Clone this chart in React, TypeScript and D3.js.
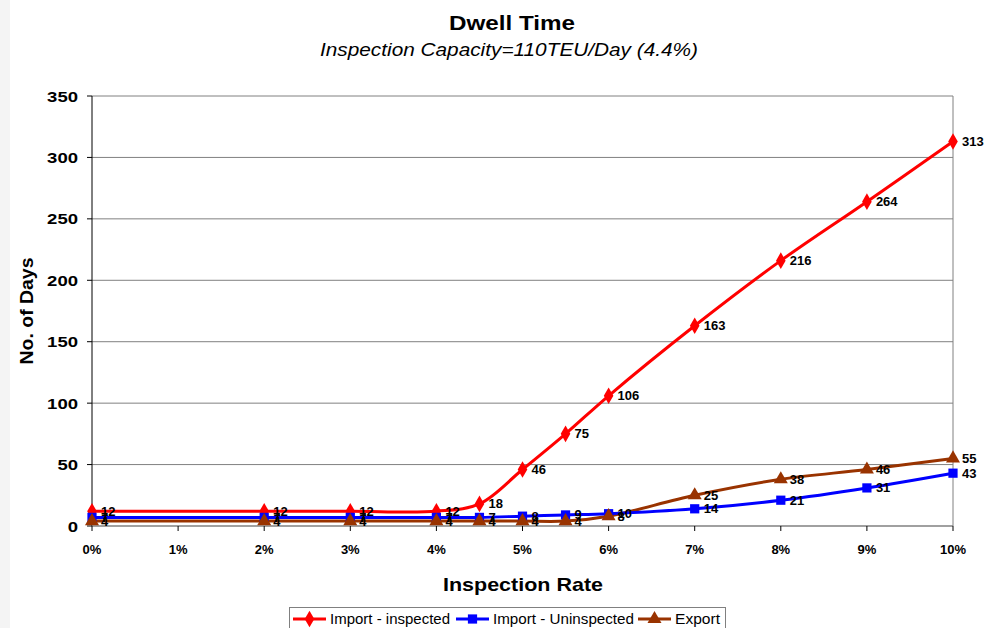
import React from "react";
import * as d3 from "d3";

const rates = [0, 2, 3, 4, 4.5, 5, 5.5, 6, 7, 8, 9, 10];
const importInspected = [12, 12, 12, 12, 18, 46, 75, 106, 163, 216, 264, 313];
const importUninspected = [7, 7, 7, 7, 7, 8, 9, 10, 14, 21, 31, 43];
const exportDwell = [4, 4, 4, 4, 4, 4, 4, 8, 25, 38, 46, 55];
const xTicks = [0, 1, 2, 3, 4, 5, 6, 7, 8, 9, 10];
const yTicks = [0, 50, 100, 150, 200, 250, 300, 350];

const W = 986;
const H = 628;
const left = 92, right = 953, top = 96, bottom = 526;

const x = d3.scaleLinear().domain([0, 10]).range([left, right]);
const y = d3.scaleLinear().domain([0, 350]).range([bottom, top]);

type Series = { name: string; values: number[]; color: string; marker: "diamond" | "square" | "triangle" };
const series: Series[] = [
  { name: "Import - inspected", values: importInspected, color: "#ff0000", marker: "diamond" },
  { name: "Import - Uninspected", values: importUninspected, color: "#0000ff", marker: "square" },
  { name: "Export", values: exportDwell, color: "#993300", marker: "triangle" },
];

const symType = { diamond: d3.symbolDiamond, square: d3.symbolSquare, triangle: d3.symbolTriangle };
const symSize = { diamond: 80, square: 85, triangle: 85 };

function Marker({ kind, cx, cy, color }: { kind: Series["marker"]; cx: number; cy: number; color: string }) {
  const p = d3.symbol().type(symType[kind]).size(symSize[kind])() || "";
  return <path d={p} transform={`translate(${cx},${cy})`} fill={color} />;
}

export default function App() {
  const line = d3
    .line<number>()
    .x((_, i) => x(rates[i]))
    .y((v) => y(v))
    .curve(d3.curveCatmullRom.alpha(0.5));

  const font = "Arial, 'Liberation Sans', sans-serif";
  const narrow = "'Liberation Sans Narrow', 'Arial Narrow', Arial, sans-serif";

  const legendItems = [
    { s: series[0], x0: 293, tx: 330, w: 120 },
    { s: series[1], x0: 456, tx: 493, w: 141 },
    { s: series[2], x0: 638, tx: 675, w: 45 },
  ];

  return (
    <svg width={W} height={H} style={{ position: "absolute", left: 0, top: 0, background: "#fff" }} fontFamily={font}>
      <rect x={0} y={0} width={W} height={H} fill="#fff" />
      <rect x={0} y={0} width={10} height={H} fill="#f4f4f4" />
      {/* title */}
      <text x={512} y={30} textAnchor="middle" fontSize={21} fontWeight="bold" textLength={126} lengthAdjust="spacingAndGlyphs">Dwell Time</text>
      <text x={509} y={56} textAnchor="middle" fontSize={18.5} fontStyle="italic" textLength={378} lengthAdjust="spacingAndGlyphs">Inspection Capacity=110TEU/Day (4.4%)</text>

      {/* gridlines */}
      {yTicks.filter((t) => t > 0).map((t) => (
        <line key={t} x1={left} x2={right} y1={y(t)} y2={y(t)} stroke="#808080" strokeWidth={1} />
      ))}
      <line x1={right} x2={right} y1={top} y2={bottom} stroke="#808080" strokeWidth={1} />

      {/* axes */}
      <line x1={left} x2={left} y1={top} y2={bottom} stroke="#000" strokeWidth={1} />
      <line x1={left} x2={right} y1={bottom} y2={bottom} stroke="#808080" strokeWidth={1.5} />
      {yTicks.map((t) => (
        <g key={t}>
          <line x1={left - 5} x2={left} y1={y(t)} y2={y(t)} stroke="#000" />
          <text x={78} y={y(t) + 5.5} textAnchor="end" fontSize={15} fontWeight="bold" textLength={String(t).length * 10.3} lengthAdjust="spacingAndGlyphs">{t}</text>
        </g>
      ))}
      {xTicks.map((t) => (
        <g key={t}>
          <line x1={x(t)} x2={x(t)} y1={bottom} y2={bottom + 5} stroke="#000" />
          <text x={x(t)} y={554} textAnchor="middle" fontSize={13} fontWeight="bold">{t + "%"}</text>
        </g>
      ))}

      <text x={523} y={591} textAnchor="middle" fontSize={19} fontWeight="bold" textLength={160} lengthAdjust="spacingAndGlyphs">Inspection Rate</text>
      <text transform={`translate(33,${(top + bottom) / 2}) rotate(-90)`} textAnchor="middle" fontSize={18} fontWeight="bold" textLength={107} lengthAdjust="spacingAndGlyphs">No. of Days</text>

      {/* series lines */}
      {[...series].reverse().map((s) => (
        <path key={s.name} d={line(s.values) || ""} fill="none" stroke={s.color} strokeWidth={3} />
      ))}
      {series.map((s) =>
        s.values.map((v, i) => <Marker key={s.name + i} kind={s.marker} cx={x(rates[i])} cy={y(v)} color={s.color} />)
      )}
      {/* data labels */}
      {series.map((s) =>
        s.values.map((v, i) => (
          <text key={"l" + s.name + i} x={x(rates[i]) + 9} y={y(v) + 4.5} fontSize={13} fontWeight="bold" fill="#000">
            {v}
          </text>
        ))
      )}

      {/* legend */}
      <rect x={289.5} y={607.5} width={436} height={30} fill="#fff" stroke="#808080" />
      {legendItems.map(({ s, x0, tx, w }) => (
        <g key={s.name}>
          <line x1={x0} x2={x0 + 33} y1={619} y2={619} stroke={s.color} strokeWidth={3} />
          <Marker kind={s.marker} cx={x0 + 16.5} cy={619} color={s.color} />
          <text x={tx} y={624} fontSize={14} fontFamily={narrow} textLength={w} lengthAdjust="spacingAndGlyphs">{s.name}</text>
        </g>
      ))}
    </svg>
  );
}
